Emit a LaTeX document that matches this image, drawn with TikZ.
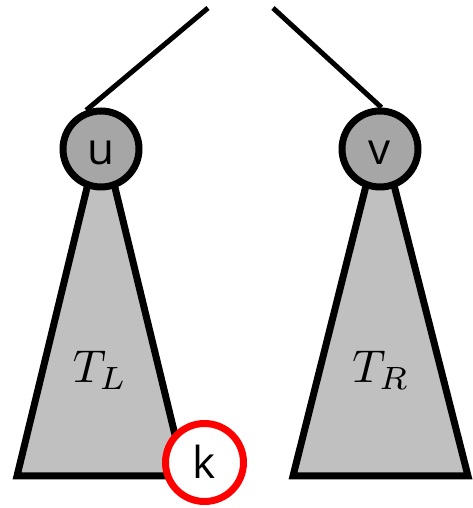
\documentclass[tikz,border=0pt]{standalone}
\usepackage{fontspec}
\setmainfont{Open Sans}

\definecolor{nodegray}{RGB}{166,166,166}
\definecolor{treegray}{RGB}{192,192,192}

\begin{document}
\begin{tikzpicture}[x=1pt, y=1pt,
    vertex/.style={circle, draw=black, line width=7pt, fill=nodegray, minimum size=76pt, inner sep=0pt,
                   font=\fontsize{44}{50}\selectfont, text height=32pt, text depth=0pt},
    leaf/.style={vertex, draw=red, fill=white, minimum size=78pt},
    subtree/.style={draw=black, line width=7pt, fill=treegray, line join=miter},
    edge/.style={line width=5pt}]
      \useasboundingbox (0,0) rectangle (472,508);
      \filldraw[subtree] (101,378) -- (17,32) -- (185,32) -- cycle;
      \filldraw[subtree] (380,378) -- (293,32) -- (468,32) -- cycle;
      \node (tl) at (100,138) {\scalebox{4.6}{$T_L$}};
      \node (tr) at (381,138) {\scalebox{4.6}{$T_R$}};
      \node[vertex] (u) at (101,359) {u};
      \node[vertex] (v) at (380,359) {v};
      \node[leaf]   (k) at (204.5,45.5) {k};
      \coordinate (pl) at (208,500);
      \coordinate (pr) at (273,500);
      \draw[edge] (pl) -- (u.111);
      \draw[edge] (pr) -- (v.88);
    \end{tikzpicture}
\end{document}
